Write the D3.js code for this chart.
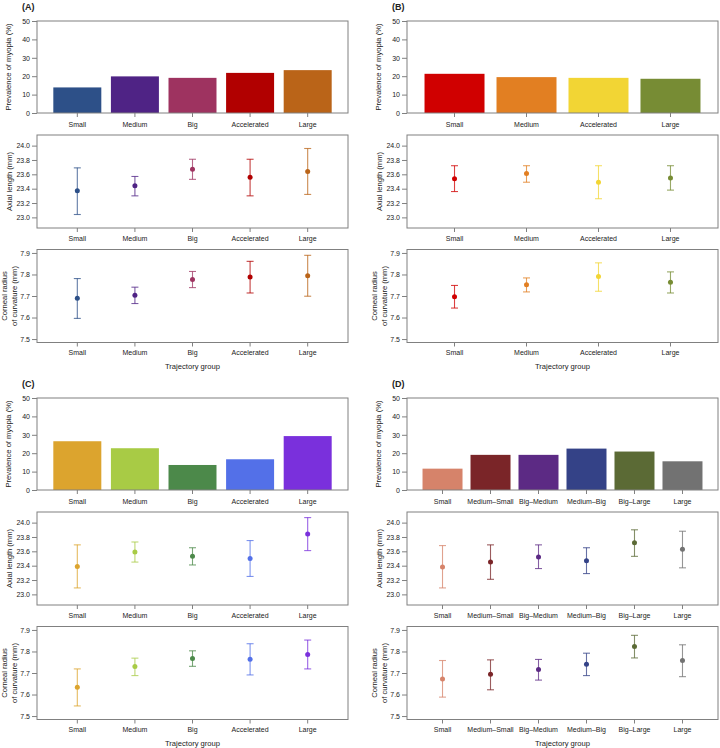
<!DOCTYPE html>
<html>
<head>
<meta charset="utf-8">
<script src="https://cdn.jsdelivr.net/npm/d3@7"></script>
<style>
  body { margin: 0; background: #fff; }
  svg text { font-family: "Liberation Sans", Arial, Helvetica, sans-serif; -webkit-font-smoothing: antialiased; }
</style>
</head>
<body>
<div id="chart"></div>
<script>
// Trajectory groups per panel
const groupsA = ['Small', 'Medium', 'Big', 'Accelerated', 'Large'];
const groupsB = ['Small', 'Medium', 'Accelerated', 'Large'];
const groupsC = ['Small', 'Medium', 'Big', 'Accelerated', 'Large'];
const groupsD = ['Small', 'Medium–Small', 'Big–Medium', 'Medium–Big', 'Big–Large', 'Large'];

// Prevalence of myopia (%)
const myopiaA = [13.9, 19.9, 19.1, 21.8, 23.3];
const myopiaB = [21.3, 19.5, 19.1, 18.6];
const myopiaC = [26.5, 22.7, 13.6, 16.7, 29.3];
const myopiaD = [11.6, 19.1, 19.1, 22.5, 20.9, 15.6];

// Axial length (mm): mean, lower, upper
const axialA = [23.37, 23.44, 23.67, 23.56, 23.64];
const axialLoA = [23.04, 23.30, 23.53, 23.30, 23.32];
const axialHiA = [23.69, 23.57, 23.81, 23.81, 23.96];
const axialB = [23.54, 23.61, 23.49, 23.55];
const axialLoB = [23.36, 23.49, 23.26, 23.38];
const axialHiB = [23.72, 23.72, 23.72, 23.72];
const axialC = [23.39, 23.59, 23.53, 23.50, 23.84];
const axialLoC = [23.09, 23.45, 23.41, 23.25, 23.61];
const axialHiC = [23.69, 23.73, 23.65, 23.75, 24.07];
const axialD = [23.38, 23.45, 23.52, 23.47, 23.72, 23.63];
const axialLoD = [23.09, 23.21, 23.36, 23.29, 23.53, 23.37];
const axialHiD = [23.68, 23.69, 23.69, 23.65, 23.90, 23.88];

// Corneal radius of curvature (mm): mean, lower, upper
const corneaA = [7.690, 7.704, 7.777, 7.788, 7.794];
const corneaLoA = [7.596, 7.665, 7.739, 7.714, 7.699];
const corneaHiA = [7.781, 7.741, 7.814, 7.861, 7.889];
const corneaB = [7.697, 7.752, 7.791, 7.764];
const corneaLoB = [7.644, 7.719, 7.722, 7.714];
const corneaHiB = [7.749, 7.784, 7.854, 7.812];
const corneaC = [7.634, 7.730, 7.767, 7.764, 7.786];
const corneaLoC = [7.547, 7.688, 7.731, 7.691, 7.719];
const corneaHiC = [7.719, 7.769, 7.803, 7.836, 7.853];
const corneaD = [7.672, 7.694, 7.716, 7.741, 7.823, 7.758];
const corneaLoD = [7.588, 7.622, 7.667, 7.688, 7.770, 7.683];
const corneaHiD = [7.758, 7.761, 7.763, 7.792, 7.875, 7.831];

// Tick labels
const myopiaTicks = [0, 10, 20, 30, 40, 50];
const axialTicks = [23.0, 23.2, 23.4, 23.6, 23.8, 24.0];
const corneaTicks = [7.5, 7.6, 7.7, 7.8, 7.9];

// Colours per group
const colorsA = ['#2d5088', '#4f2385', '#9e3360', '#b10000', '#ba6418'];
const colorsB = ['#d00000', '#e27f22', '#f2d534', '#778c34'];
const colorsC = ['#dca42e', '#a8cb45', '#4c894a', '#5370e8', '#7a30dc'];
const colorsD = ['#d6836a', '#7a2528', '#5c2a84', '#344287', '#5b6a35', '#727272'];

const panels = [
  { label: '(A)', col: 0, row: 0, groups: groupsA, colors: colorsA, myopia: myopiaA,
    axial: [axialA, axialLoA, axialHiA], cornea: [corneaA, corneaLoA, corneaHiA] },
  { label: '(B)', col: 1, row: 0, groups: groupsB, colors: colorsB, myopia: myopiaB,
    axial: [axialB, axialLoB, axialHiB], cornea: [corneaB, corneaLoB, corneaHiB] },
  { label: '(C)', col: 0, row: 1, groups: groupsC, colors: colorsC, myopia: myopiaC,
    axial: [axialC, axialLoC, axialHiC], cornea: [corneaC, corneaLoC, corneaHiC] },
  { label: '(D)', col: 1, row: 1, groups: groupsD, colors: colorsD, myopia: myopiaD,
    axial: [axialD, axialLoD, axialHiD], cornea: [corneaD, corneaLoD, corneaHiD] }
];

// Layout
const WIDTH = 720;
const HEIGHT = 748;
const COL_X = [0, 370];
const ROW_Y = [0, 377];
const BOX_L = 37;
const BOX_R = 348;
const BOX_COLOR = '#808080';
const TEXT_COLOR = '#222';

// R-style 4% axis extension
function extend(lim) {
  const e = 0.04 * (lim[1] - lim[0]);
  return [lim[0] - e, lim[1] + e];
}

const svg = d3.select('#chart').append('svg')
  .attr('width', WIDTH)
  .attr('height', HEIGHT)
  .style('background', '#fff');

function yAxis(g, y, ticks, fmt) {
  g.call(d3.axisLeft(y).tickValues(ticks).tickSize(5).tickPadding(2).tickFormat(fmt));
  g.select('.domain').remove();
  g.selectAll('.tick line').attr('stroke', BOX_COLOR);
  g.selectAll('.tick text')
    .style('fill', TEXT_COLOR)
    .style('font-size', '7px');
}

function drawPanel(p) {
  const ox = COL_X[p.col];
  const oy = ROW_Y[p.row];
  const n = p.groups.length;
  const left = ox + BOX_L;
  const right = ox + BOX_R;

  // barplot-like x positions: bar i spans [0.2 + 1.2i, 1.2 + 1.2i]
  const x = d3.scaleLinear()
    .domain(extend([0.1, 1.2 * n + 0.1]))
    .range([left, right]);
  const cx = i => x(0.7 + 1.2 * i);

  const g = svg.append('g').attr('class', 'panel');
  const marks = g.append('g');
  const labels = g.append('g');

  labels.append('text')
    .attr('x', ox + 22)
    .attr('y', oy + 9.5)
    .style('fill', TEXT_COLOR)
    .style('font-size', '9px')
    .style('font-weight', 'bold')
    .text(p.label);

  const rows = [
    { top: oy + 21, bottom: oy + 113, domain: [0, 50], ticks: myopiaTicks, fmt: d3.format('d'),
      title: ['Prevalence of myopia (%)'], labelX: [ox + 8.5], tickGap: 12 },
    { top: oy + 135, bottom: oy + 228, domain: extend([22.9, 24.1]), ticks: axialTicks, fmt: d3.format('.1f'),
      title: ['Axial length (mm)'], labelX: [ox + 9.3], tickGap: 10.5 },
    { top: oy + 249.5, bottom: oy + 342.5, domain: extend([7.5, 7.9]), ticks: corneaTicks, fmt: d3.format('.1f'),
      title: ['Corneal radius', 'of curvature (mm)'], labelX: [ox + 4, ox + 14], tickGap: 10.5 }
  ];

  rows.forEach((r, k) => {
    const y = d3.scaleLinear().domain(r.domain).range([r.bottom, r.top]);

    if (k === 0) {
      marks.selectAll(null)
        .data(p.myopia)
        .enter().append('rect')
        .attr('x', (d, i) => x(0.2 + 1.2 * i))
        .attr('width', x(1) - x(0))
        .attr('y', d => y(d))
        .attr('height', d => y(0) - y(d))
        .attr('fill', (d, i) => p.colors[i]);
    } else {
      const series = k === 1 ? p.axial : p.cornea;
      const mean = series[0];
      const lo = series[1];
      const hi = series[2];
      const eb = marks.selectAll(null)
        .data(mean)
        .enter().append('g')
        .attr('stroke', (d, i) => p.colors[i])
        .attr('fill', (d, i) => p.colors[i]);

      eb.append('line')
        .attr('x1', (d, i) => cx(i)).attr('x2', (d, i) => cx(i))
        .attr('y1', (d, i) => y(lo[i])).attr('y2', (d, i) => y(hi[i]))
        .attr('stroke-width', 1.1)
        .attr('stroke-opacity', 0.75);
      [lo, hi].forEach(arr => {
        eb.append('line')
          .attr('x1', (d, i) => cx(i) - 3.5).attr('x2', (d, i) => cx(i) + 3.5)
          .attr('y1', (d, i) => y(arr[i])).attr('y2', (d, i) => y(arr[i]))
          .attr('stroke-width', 1.1)
          .attr('stroke-opacity', 0.75);
      });
      eb.append('circle')
        .attr('cx', (d, i) => cx(i))
        .attr('cy', d => y(d))
        .attr('r', 2.5)
        .attr('stroke', 'none');
    }

    // frame
    g.append('rect')
      .attr('x', left).attr('y', r.top)
      .attr('width', right - left).attr('height', r.bottom - r.top)
      .attr('fill', 'none')
      .attr('stroke', BOX_COLOR)
      .attr('stroke-width', 1);

    yAxis(g.append('g').attr('transform', `translate(${left},0)`), y, r.ticks, r.fmt);

    // x ticks and group names
    p.groups.forEach((name, i) => {
      g.append('line')
        .attr('x1', cx(i)).attr('x2', cx(i))
        .attr('y1', r.bottom).attr('y2', r.bottom + 4)
        .attr('stroke', BOX_COLOR);
      labels.append('text')
        .attr('x', cx(i))
        .attr('y', r.bottom + r.tickGap)
        .attr('dy', '0.35em')
        .attr('text-anchor', 'middle')
        .style('fill', TEXT_COLOR)
        .style('font-size', '7px')
        .text(name);
    });

    // y title
    const mid = (r.top + r.bottom) / 2;
    r.title.forEach((t, j) => {
      labels.append('text')
        .attr('transform', `translate(${r.labelX[j]},${mid}) rotate(-90)`)
        .attr('dy', '0.35em')
        .attr('text-anchor', 'middle')
        .style('fill', TEXT_COLOR)
        .style('font-size', '7.6px')
        .text(t);
    });
  });

  labels.append('text')
    .attr('x', (left + right) / 2)
    .attr('y', oy + 366)
    .attr('dy', '0.35em')
    .attr('text-anchor', 'middle')
    .style('fill', TEXT_COLOR)
    .style('font-size', '7.6px')
    .text('Trajectory group');
}

panels.forEach(drawPanel);
</script>
</body>
</html>
